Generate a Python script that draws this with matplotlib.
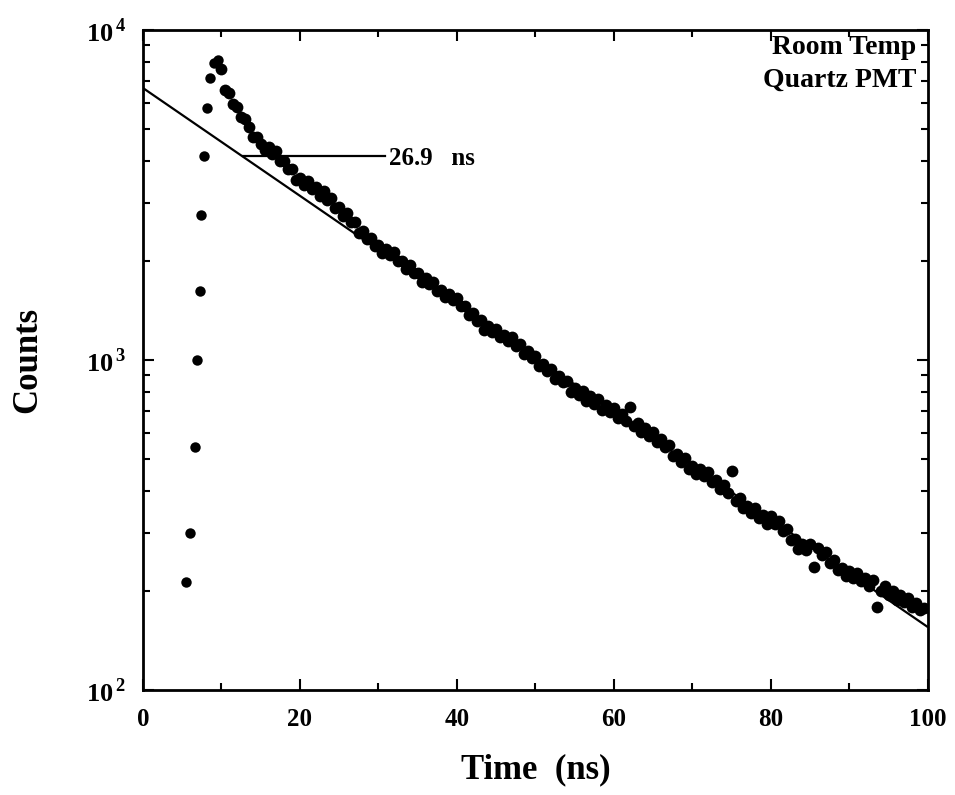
import matplotlib
matplotlib.use("Agg")
import math
import matplotlib.pyplot as plt
from matplotlib.ticker import FixedLocator, FuncFormatter, NullFormatter

plt.rcParams['font.family'] = ['Liberation Serif', 'DejaVu Serif']
plt.rcParams['font.weight'] = 'bold'
plt.rcParams['mathtext.fontset'] = 'custom'
plt.rcParams['mathtext.rm'] = 'Liberation Serif:bold'
plt.rcParams['mathtext.bf'] = 'Liberation Serif:bold'

# rising edge of the decay
rise_time = [5.5, 6.0, 6.6, 6.9, 7.3, 7.4, 7.8, 8.2, 8.6, 9.0, 9.6]
rise_counts = [212, 299, 545, 1000, 1620, 2750, 4150, 5800, 7160, 7940, 8110]

# decay data (ns, counts)
decay_time = [
    10.0, 10.5, 11.0, 11.5, 12.0, 12.5, 13.0, 13.5, 14.0, 14.5,
    15.0, 15.5, 16.0, 16.5, 17.0, 17.5, 18.0, 18.5, 19.0, 19.5,
    20.0, 20.5, 21.0, 21.5, 22.0, 22.5, 23.0, 23.5, 24.0, 24.5,
    25.0, 25.5, 26.0, 26.5, 27.0, 27.5, 28.0, 28.5, 29.0, 29.5,
    30.0, 30.5, 31.0, 31.5, 32.0, 32.5, 33.0, 33.5, 34.0, 34.5,
    35.0, 35.5, 36.0, 36.5, 37.0, 37.5, 38.0, 38.5, 39.0, 39.5,
    40.0, 40.5, 41.0, 41.5, 42.0, 42.5, 43.0, 43.5, 44.0, 44.5,
    45.0, 45.5, 46.0, 46.5, 47.0, 47.5, 48.0, 48.5, 49.0, 49.5,
    50.0, 50.5, 51.0, 51.5, 52.0, 52.5, 53.0, 53.5, 54.0, 54.5,
    55.0, 55.5, 56.0, 56.5, 57.0, 57.5, 58.0, 58.5, 59.0, 59.5,
    60.0, 60.5, 61.0, 61.5, 62.0, 62.5, 63.0, 63.5, 64.0, 64.5,
    65.0, 65.5, 66.0, 66.5, 67.0, 67.5, 68.0, 68.5, 69.0, 69.5,
    70.0, 70.5, 71.0, 71.5, 72.0, 72.5, 73.0, 73.5, 74.0, 74.5,
    75.0, 75.5, 76.0, 76.5, 77.0, 77.5, 78.0, 78.5, 79.0, 79.5,
    80.0, 80.5, 81.0, 81.5, 82.0, 82.5, 83.0, 83.5, 84.0, 84.5,
    85.0, 85.5, 86.0, 86.5, 87.0, 87.5, 88.0, 88.5, 89.0, 89.5,
    90.0, 90.5, 91.0, 91.5, 92.0, 92.5, 93.0, 93.5, 94.0, 94.5,
    95.0, 95.5, 96.0, 96.5, 97.0, 97.5, 98.0, 98.5, 99.0, 99.5,
]
decay_counts = [
    7600, 6600, 6460, 5950, 5860, 5430, 5370, 5070, 4750, 4750,
    4520, 4330, 4430, 4220, 4290, 4010, 4010, 3780, 3800, 3520,
    3550, 3390, 3490, 3300, 3350, 3150, 3250, 3050, 3090, 2880,
    2900, 2740, 2780, 2610, 2610, 2430, 2460, 2330, 2350, 2210,
    2230, 2110, 2170, 2080, 2120, 1990, 2000, 1890, 1940, 1830,
    1830, 1725, 1775, 1695, 1725, 1620, 1630, 1550, 1590, 1520,
    1545, 1455, 1460, 1370, 1390, 1310, 1320, 1230, 1268, 1213,
    1240, 1170, 1190, 1140, 1170, 1105, 1115, 1043, 1065, 1012,
    1028, 962, 975, 929, 942, 877, 893, 855, 863, 798,
    824, 782, 807, 750, 776, 734, 759, 705, 730, 695,
    713, 667, 687, 653, 721, 631, 644, 607, 623, 590,
    605, 565, 575, 545, 551, 512, 518, 490, 504, 468,
    478, 452, 466, 444, 457, 428, 433, 407, 417, 395,
    461, 375, 383, 355, 361, 343, 355, 331, 340, 319,
    336, 318, 326, 304, 308, 285, 287, 268, 277, 265,
    276, 236, 269, 256, 261, 243, 248, 231, 234, 221,
    230, 218, 226, 214, 218, 207, 215, 179, 200, 206,
    194, 199, 188, 194, 185, 190, 178, 183, 175, 177,
]

# single-exponential fit (tau = 26.9 ns), end points of the straight line
fit_time = [0, 100]
fit_counts = [6670, 155]

# annotation
tau_label = "26.9   ns"
tau_line_time = [12.7, 30.8]
tau_line_counts = [4150, 4150]

x_ticks_major = [0, 20, 40, 60, 80, 100]
x_ticks_minor = [10, 30, 50, 70, 90]
y_ticks_major = [100, 1000, 10000]
y_ticks_minor = [200, 300, 400, 500, 600, 700, 800, 900,
                 2000, 3000, 4000, 5000, 6000, 7000, 8000, 9000]

fig = plt.figure(figsize=(9.55, 7.95), dpi=100)
ax = fig.add_axes([0.1497, 0.1321, 0.8220, 0.8302])

ax.plot(fit_time, fit_counts, color='black', lw=1.6, solid_capstyle='butt')
ax.plot(tau_line_time, tau_line_counts, color='black', lw=1.6)
ax.plot(rise_time, rise_counts, 'o', color='black', ms=7.5, mec='none')
ax.plot(decay_time, decay_counts, 'o', color='black', ms=8.5, mec='none')

ax.set_yscale('log')
ax.set_xlim(0, 100)
ax.set_ylim(100, 10000)

ax.xaxis.set_major_locator(FixedLocator(x_ticks_major))
ax.xaxis.set_minor_locator(FixedLocator(x_ticks_minor))
ax.yaxis.set_major_locator(FixedLocator(y_ticks_major))
ax.yaxis.set_minor_locator(FixedLocator(y_ticks_minor))
ax.yaxis.set_minor_formatter(NullFormatter())


def yfmt(v, pos):
    e = int(round(math.log10(v)))
    return r'$\mathbf{10}^{\,\mathbf{%d}}$' % e


def xfmt(v, pos):
    return '%d' % v


ax.yaxis.set_major_formatter(FuncFormatter(yfmt))
ax.xaxis.set_major_formatter(FuncFormatter(xfmt))

ax.tick_params(which='both', direction='in', top=True, right=True, width=1.5)
ax.tick_params(which='major', length=8)
ax.tick_params(which='minor', length=5)
ax.tick_params(axis='x', which='major', labelsize=18, pad=13)
ax.tick_params(axis='y', which='major', labelsize=19, pad=12)
for lab in ax.get_xticklabels():
    lab.set_fontweight('bold')

for sp in ax.spines.values():
    sp.set_linewidth(2.0)

ax.set_xlabel('Time  (ns)', fontsize=25, fontweight='bold', labelpad=16)
ax.set_ylabel('Counts', fontsize=25, fontweight='bold', labelpad=30)

ax.text(31.3, 4080, tau_label, fontsize=18, fontweight='bold',
        ha='left', va='center')
ax.text(0.985, 0.992, 'Room Temp\nQuartz PMT', transform=ax.transAxes,
        fontsize=20, fontweight='bold', ha='right', va='top',
        linespacing=1.4)

fig.savefig('out.png', dpi=100)
